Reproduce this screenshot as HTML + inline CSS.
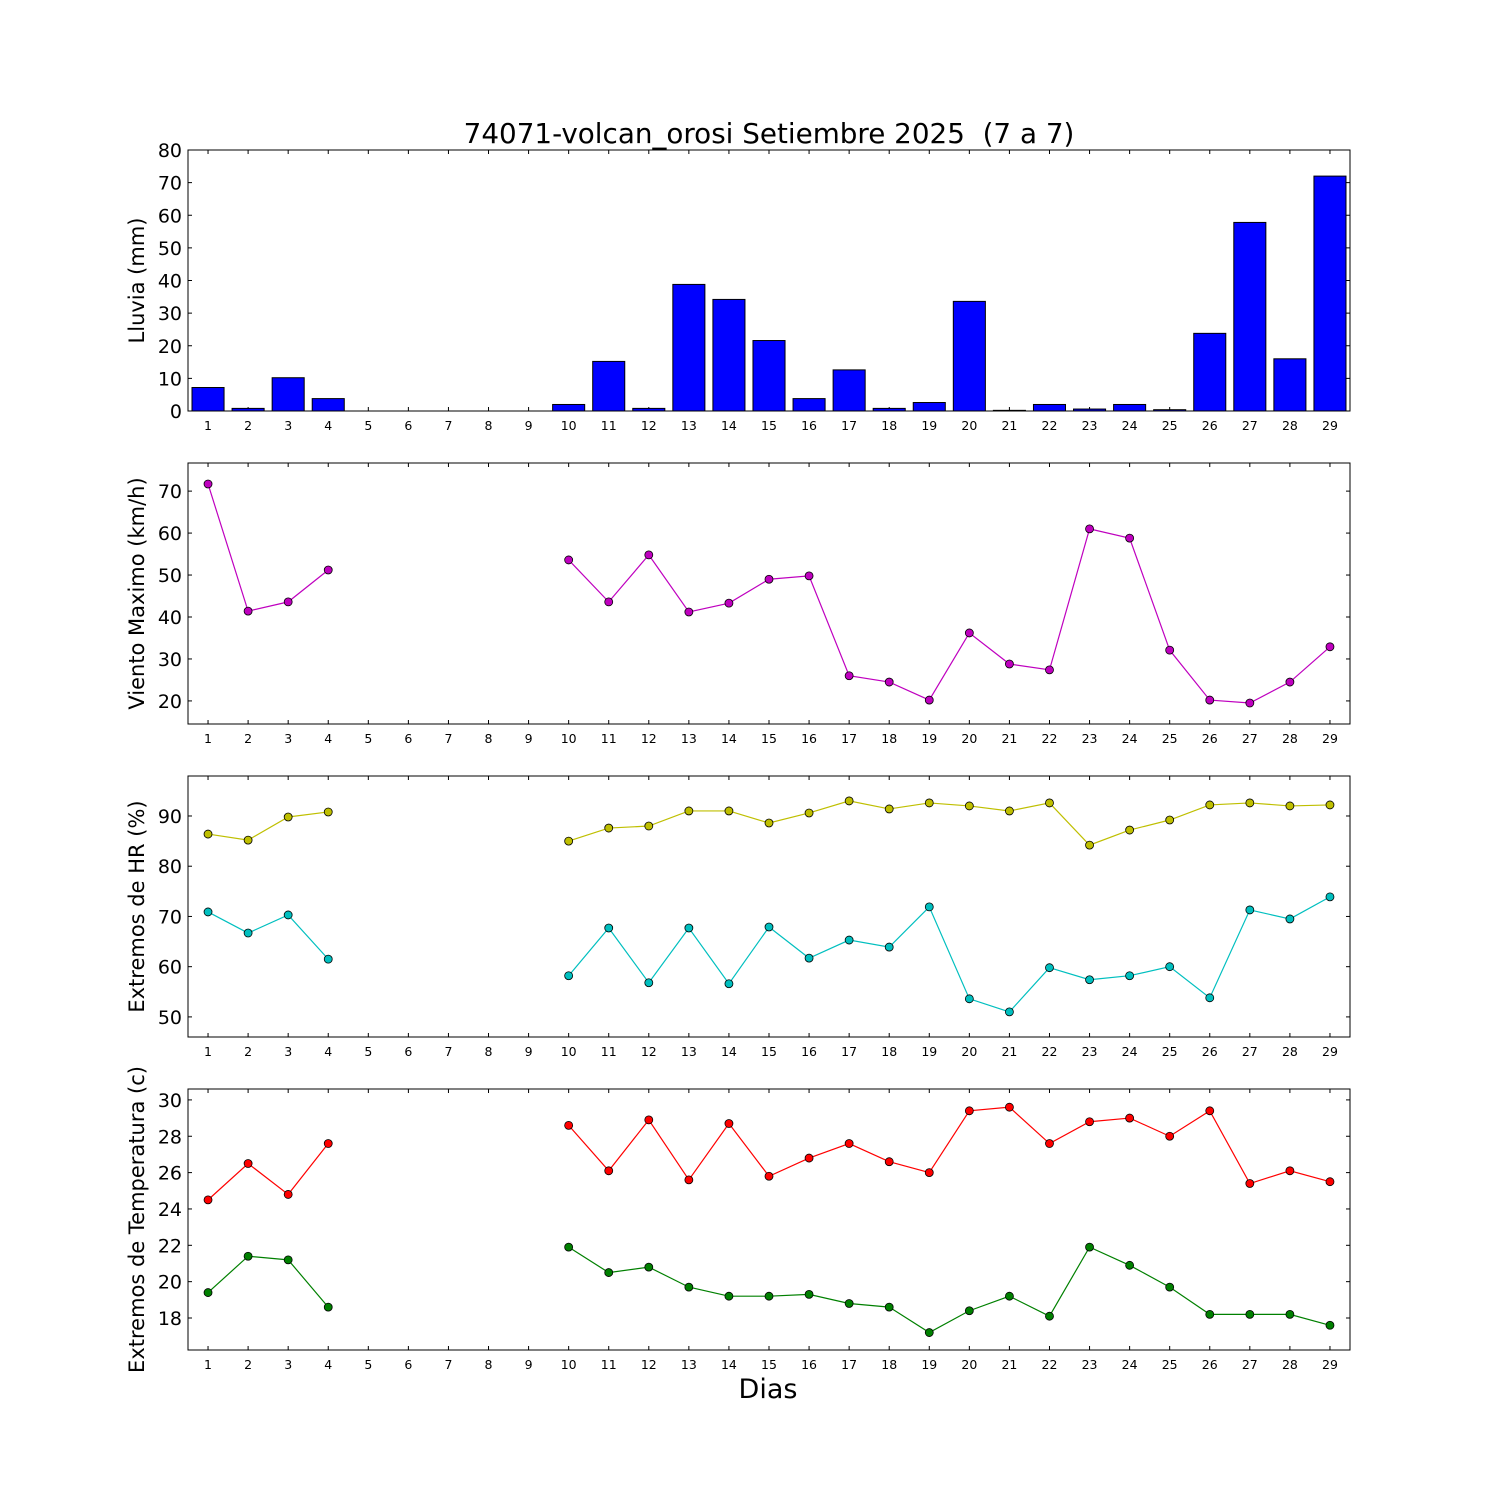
<!DOCTYPE html>
<html><head><meta charset="utf-8"><style>
html,body{margin:0;padding:0;background:#fff;}
svg{display:block;font-family:"DejaVu Sans","Liberation Sans",sans-serif;}
</style></head><body>
<svg id="chart" width="1500" height="1500" viewBox="0 0 1500 1500" xmlns="http://www.w3.org/2000/svg">
<rect width="1500" height="1500" fill="#fff"/>
<text x="769" y="143" font-size="27.8" text-anchor="middle" style="white-space:pre">74071-volcan_orosi Setiembre 2025  (7 a 7)</text>
<text x="768" y="1398" font-size="27" text-anchor="middle">Dias</text>
</svg>
<script>
const days = [1,2,3,4,5,6,7,8,9,10,11,12,13,14,15,16,17,18,19,20,21,22,23,24,25,26,27,28,29];
const rain = [7.2,0.8,10.2,3.8,0,0,0,0,0,2,15.2,0.8,38.8,34.2,21.6,3.8,12.6,0.8,2.6,33.6,0.2,2,0.6,2,0.4,23.8,57.8,16,72];
const wind = [71.7,41.4,43.6,51.2,null,null,null,null,null,53.6,43.6,54.8,41.2,43.3,49,49.8,26,24.5,20.2,36.2,28.8,27.4,61,58.8,32.1,20.2,19.5,24.5,32.9];
const hrMax = [86.4,85.2,89.8,90.8,null,null,null,null,null,85,87.6,88,91,91,88.6,90.6,93,91.4,92.6,92,91,92.6,84.2,87.2,89.2,92.2,92.6,92,92.2];
const hrMin = [70.9,66.7,70.3,61.5,null,null,null,null,null,58.2,67.7,56.8,67.7,56.6,67.9,61.7,65.3,63.9,71.9,53.6,51,59.8,57.4,58.2,60,53.8,71.3,69.5,73.9];
const tMax = [24.5,26.5,24.8,27.6,null,null,null,null,null,28.6,26.1,28.9,25.6,28.7,25.8,26.8,27.6,26.6,26.0,29.4,29.6,27.6,28.8,29.0,28.0,29.4,25.4,26.1,25.5];
const tMin = [19.4,21.4,21.2,18.6,null,null,null,null,null,21.9,20.5,20.8,19.7,19.2,19.2,19.3,18.8,18.6,17.2,18.4,19.2,18.1,21.9,20.9,19.7,18.2,18.2,18.2,17.6];
const rainTicks = [0,10,20,30,40,50,60,70,80];
const windTicks = [20,30,40,50,60,70];
const hrTicks = [50,60,70,80,90];
const tTicks = [18,20,22,24,26,28,30];

const NS="http://www.w3.org/2000/svg";
const svg=document.getElementById('chart');
function mk(tag,attrs,parent){const e=document.createElementNS(NS,tag);for(const k in attrs)e.setAttribute(k,attrs[k]);(parent||svg).appendChild(e);return e;}
const X0=188,X1=1350;
const xs=d=>X0+(d-0.5)/29*(X1-X0);

function panel(name,top,bot,ymin,ymax,ticks,label){
  const g=mk('g',{});
  
  
  const ys=v=>bot-(v-ymin)/(ymax-ymin)*(bot-top);
  ticks.forEach(t=>{
    const y=ys(t);
    mk('line',{x1:X0,x2:X0+4,y1:y,y2:y,stroke:'#000'},g);
    mk('line',{x1:X1,x2:X1-4,y1:y,y2:y,stroke:'#000'},g);
    const tx=mk('text',{x:X0-6,y:y+7,'font-size':19,'text-anchor':'end'},g);
    
    
    tx.textContent=t;
  });
  days.forEach(d=>{
    const x=xs(d);
    mk('line',{x1:x,x2:x,y1:bot,y2:bot-4,stroke:'#000'},g);
    mk('line',{x1:x,x2:x,y1:top,y2:top+4,stroke:'#000'},g);
    const tx=mk('text',{x:x,y:bot+19,'font-size':12.5,'text-anchor':'middle'},g);
    
    
    tx.textContent=d;
  });
  const yl=mk('text',{x:0,y:0,'font-size':21,'text-anchor':'middle',transform:`translate(144,${(top+bot)/2}) rotate(-90)`},g);
  
  
  yl.textContent=label;
  return {g,ys,top,bot};
}
function frame(p){mk('rect',{x:X0,y:p.top,width:X1-X0,height:p.bot-p.top,fill:'none',stroke:'#000','stroke-width':1},p.g);}
function series(p,vals,color,name){
  let seg=[];const segs=[];
  vals.forEach((v,i)=>{if(v==null){if(seg.length)segs.push(seg);seg=[];}else seg.push([xs(days[i]),p.ys(v)]);});
  if(seg.length)segs.push(seg);
  segs.forEach(s=>{const l=mk('polyline',{points:s.map(q=>q.join(',')).join(' '),fill:'none',stroke:color,'stroke-width':1.2},p.g);
    
    });
  vals.forEach((v,i)=>{if(v==null)return;const c=mk('circle',{cx:xs(days[i]),cy:p.ys(v),r:4,fill:color,stroke:'#000','stroke-width':0.8},p.g);
    
    });
}
const p1=panel('rain-panel',150,411,0,80,rainTicks,'Lluvia (mm)');
rain.forEach((v,i)=>{const d=days[i];const x=xs(d-0.4),w=xs(d+0.4)-x;const y=p1.ys(v);
  const r=mk('rect',{x:x,y:y,width:w,height:p1.ys(0)-y,fill:'#0000ff',stroke:'#000','stroke-width':1},p1.g);
  
  });
frame(p1);
const p2=panel('wind-panel',463,724,14.5,76.7,windTicks,'Viento Maximo (km/h)');
frame(p2);series(p2,wind,'#bf00bf','wind');
const p3=panel('humidity-panel',776,1037,46,97.96,hrTicks,'Extremos de HR (%)');
frame(p3);series(p3,hrMax,'#bfbf00','hr-max');series(p3,hrMin,'#00bfbf','hr-min');
const p4=panel('temperature-panel',1089,1350,16.24,30.6,tTicks,'Extremos de Temperatura (c)');
frame(p4);series(p4,tMax,'#ff0000','temp-max');series(p4,tMin,'#008000','temp-min');
</script>
</body></html>
